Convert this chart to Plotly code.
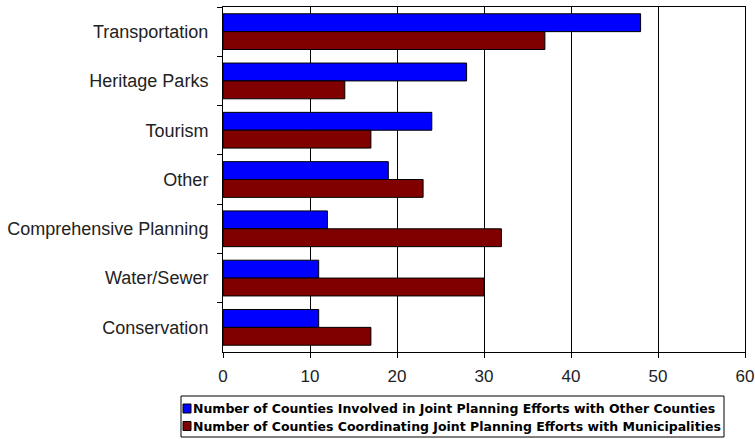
import plotly.graph_objects as go

categories = ["Transportation", "Heritage Parks", "Tourism", "Other",
              "Comprehensive Planning", "Water/Sewer", "Conservation"]
other_counties = [48, 28, 24, 19, 12, 11, 11]
municipalities = [37, 14, 17, 23, 32, 30, 17]
series_names = [
    "Number of Counties Involved in Joint Planning Efforts with Other Counties",
    "Number of Counties Coordinating Joint Planning Efforts with Municipalities",
]
series_colors = ["#0000FF", "#800000"]
x_ticks = [0, 10, 20, 30, 40, 50, 60]

# plot area geometry in pixels
L, R, T, B = 223, 745, 7, 352
W, H = 755, 439
def px(xp):
    return (xp - L) / (R - L)
def py(yp):
    return (B - yp) / (B - T)

fig = go.Figure()
for vals, name, col in zip([other_counties, municipalities], series_names, series_colors):
    fig.add_trace(go.Bar(y=categories, x=vals, orientation="h", name=name,
                         marker=dict(color=col, line=dict(color="black", width=1))))

# manual legend
shapes = [dict(type="rect", xref="paper", yref="paper",
               x0=px(181), x1=px(724), y0=py(396), y1=py(437),
               line=dict(color="black", width=1), fillcolor="white", layer="above")]
annotations = []
row_centers = [408.5, 426]
for name, col, yc in zip(series_names, series_colors, row_centers):
    shapes.append(dict(type="rect", xref="paper", yref="paper",
                       x0=px(183), x1=px(191), y0=py(yc - 4.5), y1=py(yc + 4.5),
                       line=dict(color="black", width=1), fillcolor=col, layer="above"))
    annotations.append(dict(xref="paper", yref="paper", x=px(191), y=py(yc),
                            xanchor="left", yanchor="middle", showarrow=False,
                            text=name,
                            font=dict(family="DejaVu Sans, sans-serif", size=12.5,
                                      color="black", weight="bold")))

fig.update_layout(
    width=W, height=H,
    margin=dict(l=L, r=W - R, t=T, b=H - B, autoexpand=False),
    paper_bgcolor="white", plot_bgcolor="white",
    barmode="group", bargap=0.275, bargroupgap=0,
    font=dict(family="Arial, Liberation Sans, sans-serif", size=18, color="#222222"),
    showlegend=False,
    shapes=shapes, annotations=annotations,
    xaxis=dict(range=[0, 60], tickvals=x_ticks, showgrid=True, gridcolor="black", gridwidth=1,
               showline=True, linecolor="black", linewidth=1, mirror=True,
               ticks="outside", ticklen=5, tickcolor="black", zeroline=False,
               ticklabelstandoff=4,
               tickfont=dict(size=17, color="#222222")),
    yaxis=dict(autorange="reversed", showline=True, linecolor="black", linewidth=1, mirror=True,
               ticks="outside", ticklen=5, tickcolor="black", tickson="boundaries",
               ticklabelstandoff=10,
               showgrid=False, tickfont=dict(size=18, color="#222222")),
)

fig.write_html("out.html")
